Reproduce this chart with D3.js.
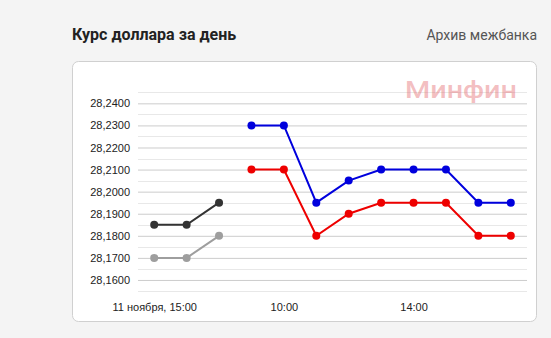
<!DOCTYPE html>
<html>
<head>
<meta charset="utf-8">
<script src="https://cdn.jsdelivr.net/npm/d3@7"></script>
<style>
body { margin:0; background:#f4f4f4; font-family: Roboto, "Liberation Sans", Arial, sans-serif; }
</style>
</head>
<body>
<script>
// slots along the x axis (one per hour)
var slots = ["15:00","16:00","17:00","09:00","10:00","11:00","12:00","13:00","14:00","15:00b","16:00b","17:00b"];
var tickSlots = ["15:00","10:00","14:00"];
var tickLabels = ["11 ноября, 15:00","10:00","14:00"];
var yTicks = [28.16,28.17,28.18,28.19,28.20,28.21,28.22,28.23,28.24];

// yesterday
var prevSell = [28.1850,28.1850,28.1950];
var prevBuy = [28.1700,28.1700,28.1800];
// today
var sell = [28.2300,28.2300,28.1950,28.2050,28.2100,28.2100,28.2100,28.1950,28.1950];
var buy = [28.2100,28.2100,28.1800,28.1900,28.1950,28.1950,28.1950,28.1800,28.1800];

var W = 551, H = 338;
var svg = d3.select("body").append("svg").attr("width", W).attr("height", H);

svg.append("text").attr("x",72).attr("y",40)
    .style("font-size","16px").style("font-weight","bold").style("fill","#222")
    .text("Курс доллара за день");
svg.append("text").attr("x",537).attr("y",40).attr("text-anchor","end")
    .style("font-size","14px").style("fill","#555")
    .text("Архив межбанка");

svg.append("rect").attr("x",72.5).attr("y",61.5).attr("width",464).attr("height",260)
    .attr("rx",6).style("fill","#fff").style("stroke","#d0d0d0");

var x = d3.scalePoint().domain(slots).range([138,527]).padding(0.5);
var y = d3.scaleLinear().domain([28.155,28.245]).range([291,92.3]);

// grid, minor first
var minor = d3.range(28.155, 28.2451, 0.01);
svg.selectAll(".minor").data(minor).enter().append("line")
    .attr("x1",138).attr("x2",527)
    .attr("y1",function(d){return Math.round(y(d))+0.5;})
    .attr("y2",function(d){return Math.round(y(d))+0.5;})
    .style("stroke","#e8e8e8");

var yAxis = svg.append("g").attr("transform","translate(138,0)")
    .call(d3.axisLeft(y).tickValues(yTicks).tickSize(-389).tickPadding(8)
        .tickFormat(function(d){return d3.format(".4f")(d).replace(".",",");}));
yAxis.select(".domain").remove();
yAxis.selectAll(".tick line").style("stroke","#cccccc");
yAxis.selectAll("text").style("font-size","11px").style("fill","#222")
    .style("font-family","'Liberation Sans', Arial, sans-serif");

var xAxis = svg.append("g").attr("transform","translate(0,291)")
    .call(d3.axisBottom(x).tickValues(tickSlots).tickSize(0).tickPadding(12)
        .tickFormat(function(d,i){return tickLabels[i];}));
xAxis.select(".domain").remove();
xAxis.selectAll("text").style("font-size","11px").style("fill","#222")
    .style("font-family","'Liberation Sans', Arial, sans-serif");

svg.append("text").attr("x",405).attr("y",98)
    .attr("textLength",112).attr("lengthAdjust","spacingAndGlyphs")
    .style("font-size","23px").style("font-weight","500")
    .style("fill","rgba(228,110,115,0.45)").text("Минфин");

function drawSeries(vals, start, color){
    var pts = vals.map(function(v,i){return {s:slots[start+i], v:v};});
    var line = d3.line().x(function(d){return x(d.s);}).y(function(d){return y(d.v);});
    svg.append("path").datum(pts).attr("d",line)
        .style("fill","none").style("stroke",color).style("stroke-width",2);
    svg.selectAll(null).data(pts).enter().append("circle")
        .attr("cx",function(d){return x(d.s);}).attr("cy",function(d){return y(d.v);})
        .attr("r",4).style("fill",color);
}
drawSeries(prevBuy, 0, "#9e9e9e");
drawSeries(prevSell, 0, "#333333");
drawSeries(buy, 3, "#ee0000");
drawSeries(sell, 3, "#0000dd");
</script>
</body>
</html>
